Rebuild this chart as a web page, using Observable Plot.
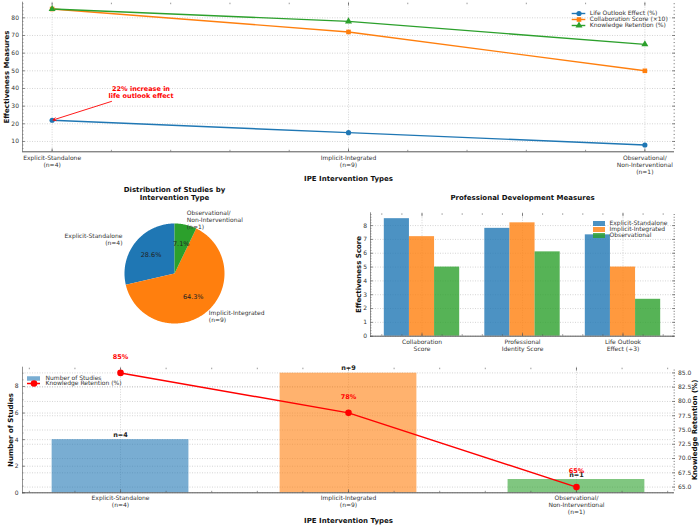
<!DOCTYPE html>
<html><head><meta charset="utf-8">
<script src="https://cdn.jsdelivr.net/npm/d3@7"></script>
<script src="https://cdn.jsdelivr.net/npm/@observablehq/plot@0.6"></script>
<style>
body{margin:0;background:#fff;}
#root{position:relative;width:700px;height:525px;overflow:hidden;background:#fff;font-family:"DejaVu Sans",sans-serif;}
</style></head><body><div id="root"></div>
<script>
// ---------- data ----------
const types = ["Explicit-Standalone","Implicit-Integrated","Observational/Non-Interventional"];
const typeTicks = ["Explicit-Standalone\n(n=4)","Implicit-Integrated\n(n=9)","Observational/\nNon-Interventional\n(n=1)"];
const studies = [4,9,1];
const lifeOutlook = [22,15,8];
const collabScore10 = [85,72,50];
const retention = [85,78,65];
const seriesNames = ["Life Outlook Effect (%)","Collaboration Score (×10)","Knowledge Retention (%)"];
const pieLabels = ["Explicit-Standalone\n(n=4)","Implicit-Integrated\n(n=9)","Observational/\nNon-Interventional\n(n=1)"];
const measures = ["Collaboration\nScore","Professional\nIdentity Score","Life Outlook\nEffect (÷3)"];
const groupNames = ["Explicit-Standalone","Implicit-Integrated","Observational"];
const explicitScores = [8.5,7.8,7.33];
const implicitScores = [7.2,8.2,5.0];
const observationalScores = [5.0,6.1,2.67];
const retentionTicks = [65,67.5,70,72.5,75,77.5,80,82.5,85];
const annotation = {text:"22% increase in\nlife outlook effect", x:0.3, y:38, target:0};
const colors = ["#1f77b4","#ff7f0e","#2ca02c"];

// ---------- helpers ----------
const root = document.getElementById("root");
function place(node, left, top){node.style.position="absolute";node.style.left=left+"px";node.style.top=top+"px";root.appendChild(node);}
const baseStyle = {fontFamily:"DejaVu Sans", fontSize:"6px", color:"#333", background:"transparent", overflow:"visible"};
const AX = "#555";
const grid = {stroke:"#b8b8b8", strokeOpacity:1, strokeDasharray:"1,1.5", strokeWidth:0.6};
function ticksX(values,size){return ["bottom","top"].map(anchor=>Plot.axisX(values,{anchor,tickSize:-size,fill:"none",stroke:AX,strokeWidth:0.6}));}
function ticksY(values,size,anchors=["left","right"]){return anchors.map(anchor=>Plot.axisY(values,{anchor,tickSize:-size,fill:"none",stroke:AX,strokeWidth:0.6}));}
function spines(xd,yd){return [Plot.ruleX([xd[0]],{stroke:"#777",strokeWidth:0.8}), Plot.ruleY([yd[0]],{stroke:"#444",strokeWidth:0.9})];}
const yLabel = (t,dx)=>Plot.text([t],{frameAnchor:dx<0?"left":"right",textAnchor:"middle",rotate:-90,dx,fontWeight:"bold",fontSize:7,fill:"#111"});

// ---------- panel 1: line chart ----------
const topSeries=[lifeOutlook,collabScore10,retention];
const topRows = seriesNames.flatMap((s,k)=>topSeries[k].map((v,i)=>({series:s,i,v})));
const x1d=[-0.1,2.1], y1d=[4.15,88.85];
const p1 = Plot.plot({
  width:700, height:190, marginLeft:22, marginRight:26, marginTop:1.7, marginBottom:38.7,
  style:baseStyle,
  x:{domain:x1d}, y:{domain:y1d},
  color:{domain:seriesNames, range:colors},
  symbol:{domain:seriesNames, range:["circle","square","triangle"]},
  marks:[
    Plot.gridY(d3.range(10,81,10), grid),
    Plot.gridX([0,1,2], grid),
    ...ticksX(d3.range(0,2.001,0.2),1.5), ...ticksX([0,1,2],3),
    ...ticksY(d3.range(6,88.6,2),1.5), ...ticksY(d3.range(10,81,10),3),
    Plot.axisY(d3.range(10,81,10),{tickSize:0,tickPadding:3.5,label:null}),
    Plot.axisX([0,1,2],{tickSize:0,tickPadding:3,label:null,tickFormat:i=>typeTicks[i],lineHeight:1.2}),
    ...spines(x1d,y1d),
    Plot.line(topRows,{x:"i",y:"v",stroke:"series",strokeWidth:1.4}),
    Plot.dot(topRows,{x:"i",y:"v",fill:"series",symbol:"series",r:2.6}),
    Plot.arrow([annotation],{x1:"x",y1:"y",x2:d=>d.target,y2:d=>lifeOutlook[d.target],stroke:"red",strokeWidth:0.9,insetStart:31,insetEnd:1,headLength:5,bend:0}),
    Plot.text([annotation],{x:"x",y:"y",text:"text",fill:"red",fontWeight:"bold",fontSize:6.5,lineHeight:1.15}),
    yLabel("Effectiveness Measures",-16),
    Plot.text(["IPE Intervention Types"],{frameAnchor:"bottom",lineAnchor:"middle",dy:27,fontWeight:"bold",fontSize:7,fill:"#111"})
  ]
});
place(p1,0,0);

const lg1 = Plot.plot({
  width:130, height:34, margin:0, style:baseStyle,
  x:{domain:[0,1], range:[6.7,20.3], axis:null},
  y:{type:"point", domain:seriesNames, range:[5,23.7], axis:null},
  color:{domain:seriesNames, range:colors},
  symbol:{domain:seriesNames, range:["circle","square","triangle"]},
  marks:[
    Plot.ruleY(seriesNames,{y:d=>d,x1:0,x2:1,stroke:d=>d,strokeWidth:1.4}),
    Plot.dot(seriesNames,{x:0.5,y:d=>d,fill:d=>d,symbol:d=>d,r:2.6}),
    Plot.text(seriesNames,{x:1,y:d=>d,text:d=>d,dx:4,textAnchor:"start"})
  ]
});
place(lg1,565,5);

// ---------- panel 2: pie ----------
const total = d3.sum(studies);
let cum = 0;
const slices = studies.map((n,i)=>{const a0=90+360*cum/total; cum+=n; const a1=90+360*cum/total; return {name:types[i],label:pieLabels[i],n,a0,a1,mid:(a0+a1)/2,pct:n/total*100};});
const rad = a=>a*Math.PI/180;
const piePts = slices.flatMap(s=>{const steps=Math.max(4,Math.ceil(s.a1-s.a0)); const pts=[{name:s.name,x:0,y:0}]; for(let k=0;k<=steps;k++){const a=rad(s.a0+(s.a1-s.a0)*k/steps); pts.push({name:s.name,x:Math.cos(a),y:Math.sin(a)});} pts.push({name:s.name,x:0,y:0}); return pts;});
const p2 = Plot.plot({
  width:348, height:160, margin:0, style:baseStyle,
  x:{domain:[-3.48,3.48], axis:null}, y:{domain:[-1.34,1.86], axis:null},
  color:{domain:types, range:colors},
  marks:[
    Plot.line(piePts,{x:"x",y:"y",z:"name",fill:"name",stroke:"none",curve:"linear"}),
    Plot.text(slices,{x:d=>0.6*Math.cos(rad(d.mid)),y:d=>0.6*Math.sin(rad(d.mid)),text:d=>d.pct.toFixed(1)+"%",fontSize:6.5,fill:"#222"}),
    Plot.text(slices.filter(d=>Math.cos(rad(d.mid))>=0),{x:d=>1.1*Math.cos(rad(d.mid)),y:d=>1.1*Math.sin(rad(d.mid)),text:"label",textAnchor:"start",lineAnchor:"middle",lineHeight:1.2}),
    Plot.text(slices.filter(d=>Math.cos(rad(d.mid))<0),{x:d=>1.1*Math.cos(rad(d.mid)),y:d=>1.1*Math.sin(rad(d.mid)),text:"label",textAnchor:"end",lineAnchor:"middle",lineHeight:1.2,dx:-9}),
    Plot.text(["Distribution of Studies by\nIntervention Type"],{frameAnchor:"top",lineAnchor:"top",dy:6,fontWeight:"bold",fontSize:7,lineHeight:1.15,fill:"#111"})
  ]
});
place(p2,0,180);

// ---------- panel 3: grouped bars ----------
const scoreSeries=[explicitScores,implicitScores,observationalScores];
const barRows = measures.flatMap((m,g)=>scoreSeries.map((arr,s)=>({g,s,group:groupNames[s],v:arr[g]})));
const x3d=[-0.5125,2.5125], y3d=[0,8.925];
const p3 = Plot.plot({
  width:370, height:180, marginLeft:40, marginRight:26, marginTop:32.3, marginBottom:24.3,
  style:baseStyle,
  x:{domain:x3d}, y:{domain:y3d},
  color:{domain:groupNames, range:colors},
  marks:[
    Plot.gridY(d3.range(0,9,1), grid),
    Plot.gridX([0,1,2], grid),
    Plot.rect(barRows,{x1:d=>d.g+(d.s-1)*0.25-0.125,x2:d=>d.g+(d.s-1)*0.25+0.125,y1:0,y2:"v",fill:"group",fillOpacity:0.8}),
    ...ticksX(d3.range(-0.4,2.41,0.2),1.5), ...ticksX([0,1,2],3),
    ...ticksY(d3.range(0,8.9,0.2),1.5), ...ticksY(d3.range(0,9,1),3),
    Plot.axisY(d3.range(0,9,1),{tickSize:0,tickPadding:3.5,label:null}),
    Plot.axisX([0,1,2],{tickSize:0,tickPadding:3,label:null,tickFormat:i=>measures[i],lineHeight:1.2}),
    ...spines(x3d,y3d),
    Plot.text(["Professional Development Measures"],{frameAnchor:"top",lineAnchor:"middle",dy:-15,fontWeight:"bold",fontSize:7,fill:"#111"}),
    yLabel("Effectiveness Score",-12)
  ]
});
place(p3,330,180);

const lg3 = Plot.plot({
  width:110, height:30, margin:0, style:baseStyle,
  x:{domain:[0,1], range:[3,15], axis:null},
  y:{type:"point", domain:groupNames, range:[6,24], axis:null},
  color:{domain:groupNames, range:colors},
  marks:[
    Plot.ruleY(groupNames,{y:d=>d,x1:0,x2:1,stroke:d=>d,strokeWidth:5,strokeOpacity:0.8}),
    Plot.text(groupNames,{x:1,y:d=>d,text:d=>d,dx:4,textAnchor:"start"})
  ]
});
place(lg3,590,214);

// ---------- panel 4: bars + retention line ----------
const retScale = d3.scaleLinear([64,86],[0,9.45]);
const studyRows = studies.map((n,i)=>({i,n,type:types[i]}));
const retRows = retention.map((r,i)=>({i,r}));
const x4d=[-0.43,2.43], y4d=[0,9.45];
const p4 = Plot.plot({
  width:700, height:175, marginLeft:22, marginRight:26, marginTop:16.7, marginBottom:32.7,
  style:baseStyle,
  x:{domain:x4d}, y:{domain:y4d},
  color:{domain:types, range:colors},
  marks:[
    Plot.gridY(d3.range(0,9,2), grid),
    Plot.gridY(retentionTicks.map(retScale), grid),
    Plot.gridX([0,1,2], grid),
    Plot.rect(studyRows,{x1:d=>d.i-0.3,x2:d=>d.i+0.3,y1:0,y2:"n",fill:"type",fillOpacity:0.6}),
    ...ticksX(d3.range(-0.4,2.41,0.2),1.5), ...ticksX([0,1,2],3),
    ...ticksY(d3.range(0,9.4,0.5),1.5,["left"]), ...ticksY(d3.range(0,9,2),3,["left"]),
    ...ticksY(d3.range(64.5,86,0.5).map(retScale),1.5,["right"]), ...ticksY(retentionTicks.map(retScale),3,["right"]),
    Plot.axisY(d3.range(0,9,2),{anchor:"left",tickSize:0,tickPadding:4,label:null}),
    Plot.axisY(retentionTicks.map(retScale),{anchor:"right",tickSize:0,tickPadding:3.5,label:null,tickFormat:v=>retScale.invert(v).toFixed(1)}),
    Plot.axisX([0,1,2],{tickSize:0,tickPadding:2,label:null,tickFormat:i=>typeTicks[i],lineHeight:1.2}),
    ...spines(x4d,y4d),
    Plot.line(retRows,{x:"i",y:d=>retScale(d.r),stroke:"red",strokeWidth:1.5}),
    Plot.dot(retRows,{x:"i",y:d=>retScale(d.r),fill:"red",r:3.3}),
    Plot.text(studyRows,{x:"i",y:"n",text:d=>"n="+d.n,dy:-5,fontWeight:"bold",fontSize:6.5,fill:"#222"}),
    Plot.text(retRows,{x:"i",y:d=>retScale(d.r),text:d=>d.r+"%",dy:-16,fill:"red",fontWeight:"bold",fontSize:6.5}),
    yLabel("Number of Studies",-12),
    yLabel("Knowledge Retention (%)",20),
    Plot.text(["IPE Intervention Types"],{frameAnchor:"bottom",lineAnchor:"middle",dy:27.7,fontWeight:"bold",fontSize:7,fill:"#111"})
  ]
});
place(p4,0,350);

const lgNames = ["Number of Studies","Knowledge Retention (%)"];
const lg4 = Plot.plot({
  width:150, height:22, margin:0, style:baseStyle,
  x:{domain:[0,1], range:[7,20], axis:null},
  y:{type:"point", domain:lgNames, range:[6.7,16.7], axis:null},
  marks:[
    Plot.ruleY([lgNames[0]],{y:d=>d,x1:0,x2:1,stroke:colors[0],strokeWidth:4.5,strokeOpacity:0.6}),
    Plot.ruleY([lgNames[1]],{y:d=>d,x1:0,x2:1,stroke:"red",strokeWidth:1.5}),
    Plot.dot([lgNames[1]],{x:0.5,y:d=>d,fill:"red",r:3.3}),
    Plot.text(lgNames,{x:1,y:d=>d,text:d=>d,dx:5,textAnchor:"start"})
  ]
});
place(lg4,20,369);
</script></body></html>
